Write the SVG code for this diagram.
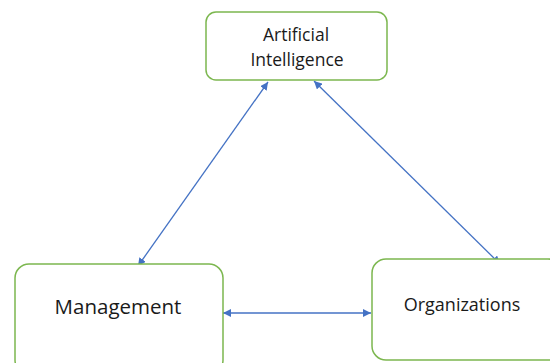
<svg xmlns="http://www.w3.org/2000/svg" width="550" height="363" viewBox="0 0 550 363">
<style>
.node{fill:#ffffff;stroke:#7cb74f;stroke-width:1.5}
.lbl{font-family:"Open Sans","Liberation Sans",sans-serif;fill:#1a1a1a;text-anchor:middle}
.conn{stroke:#4472c4;stroke-width:1.3;fill:none}
</style>
<defs>
<marker id="ah" viewBox="0 0 10 10" refX="10" refY="5" markerWidth="8" markerHeight="8" markerUnits="userSpaceOnUse" orient="auto-start-reverse">
<path d="M0,0 L10,5 L0,10 z" fill="#4472c4"/>
</marker>
</defs>
<rect width="550" height="363" fill="#ffffff"/>
<g id="connectors">
<line class="conn" x1="268" y1="82" x2="138" y2="266" marker-start="url(#ah)" marker-end="url(#ah)"/>
<line class="conn" x1="314" y1="81" x2="500" y2="264" marker-start="url(#ah)" marker-end="url(#ah)"/>
<line class="conn" x1="223" y1="313" x2="371" y2="313" marker-start="url(#ah)" marker-end="url(#ah)"/>
</g>
<g id="node-ai">
<rect class="node" x="206" y="12" width="181" height="68" rx="10"/>
<text class="lbl" x="296" y="41" font-size="17.5">Artificial</text>
<text class="lbl" x="297" y="66" font-size="17.5">Intelligence</text>
</g>
<g id="node-management">
<rect class="node" x="15" y="264" width="208" height="110" rx="14"/>
<text class="lbl" x="118" y="314" font-size="20.5">Management</text>
</g>
<g id="node-organizations">
<rect class="node" x="372" y="259" width="190" height="101" rx="14"/>
<text class="lbl" x="462" y="311" font-size="18">Organizations</text>
</g>
</svg>
